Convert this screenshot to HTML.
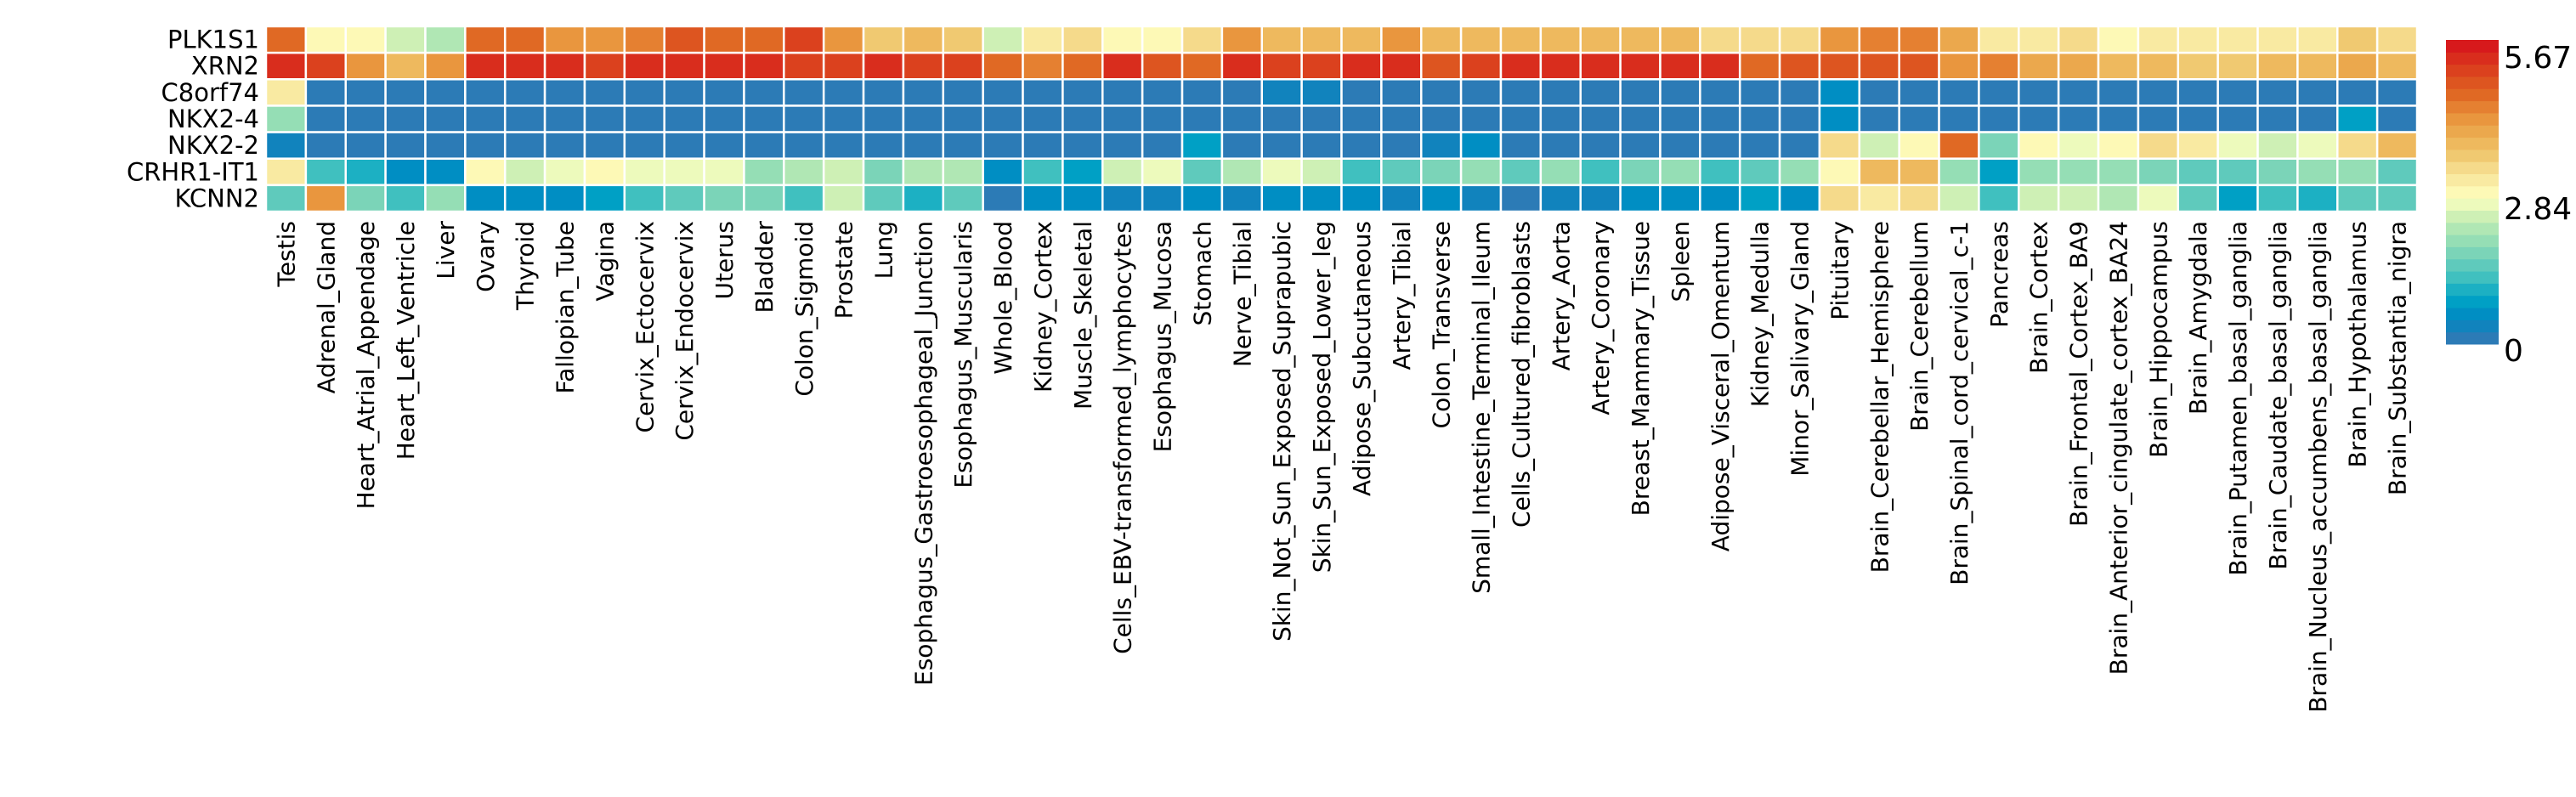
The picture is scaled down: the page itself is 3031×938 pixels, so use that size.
<!DOCTYPE html>
<html><head><meta charset="utf-8"><style>
html,body{margin:0;padding:0;background:#fff;width:3031px;height:938px;overflow:hidden}
svg text{font-family:"DejaVu Sans","Liberation Sans",sans-serif;fill:#000}
</style></head><body>
<svg id="chart" width="3031" height="938" viewBox="0 0 3031 938" xmlns="http://www.w3.org/2000/svg">
<g id="cells"></g><g id="rowlabels"></g><g id="collabels"></g><g id="cbar"></g>
</svg>
<script>
const genes = ["PLK1S1","XRN2","C8orf74","NKX2-4","NKX2-2","CRHR1-IT1","KCNN2"];
const tissues = ["Testis","Adrenal_Gland","Heart_Atrial_Appendage","Heart_Left_Ventricle","Liver","Ovary","Thyroid","Fallopian_Tube","Vagina","Cervix_Ectocervix","Cervix_Endocervix","Uterus","Bladder","Colon_Sigmoid","Prostate","Lung","Esophagus_Gastroesophageal_Junction","Esophagus_Muscularis","Whole_Blood","Kidney_Cortex","Muscle_Skeletal","Cells_EBV-transformed_lymphocytes","Esophagus_Mucosa","Stomach","Nerve_Tibial","Skin_Not_Sun_Exposed_Suprapubic","Skin_Sun_Exposed_Lower_leg","Adipose_Subcutaneous","Artery_Tibial","Colon_Transverse","Small_Intestine_Terminal_Ileum","Cells_Cultured_fibroblasts","Artery_Aorta","Artery_Coronary","Breast_Mammary_Tissue","Spleen","Adipose_Visceral_Omentum","Kidney_Medulla","Minor_Salivary_Gland","Pituitary","Brain_Cerebellar_Hemisphere","Brain_Cerebellum","Brain_Spinal_cord_cervical_c-1","Pancreas","Brain_Cortex","Brain_Frontal_Cortex_BA9","Brain_Anterior_cingulate_cortex_BA24","Brain_Hippocampus","Brain_Amygdala","Brain_Putamen_basal_ganglia","Brain_Caudate_basal_ganglia","Brain_Nucleus_accumbens_basal_ganglia","Brain_Hypothalamus","Brain_Substantia_nigra"];
const valsPLK1S1 = [4.9,3.0,2.9,2.4,2.3,4.9,4.9,4.4,4.4,4.7,5.0,4.9,4.8,5.2,4.4,3.6,3.8,3.7,2.4,3.3,3.5,3.0,2.9,3.5,4.4,3.9,3.9,4.0,4.4,4.0,3.9,3.8,4.0,3.9,3.9,3.9,3.5,3.4,3.5,4.4,4.7,4.6,4.1,3.2,3.3,3.4,3.0,3.3,3.2,3.3,3.3,3.3,3.6,3.5];
const valsXRN2 = [5.6,5.3,4.4,4.0,4.3,5.6,5.6,5.6,5.4,5.5,5.6,5.6,5.5,5.3,5.2,5.6,5.3,5.3,4.8,4.5,4.8,5.6,5.0,4.9,5.6,5.3,5.4,5.6,5.6,5.1,5.2,5.6,5.5,5.6,5.6,5.5,5.6,4.9,5.1,5.1,5.0,5.0,4.3,4.5,4.2,4.2,3.8,3.8,3.7,3.7,3.9,3.9,4.1,3.8];
const valsC8orf74 = [3.1,0,0,0,0,0,0,0,0.1,0,0,0,0,0,0,0,0,0,0,0,0,0,0.15,0,0,0.3,0.35,0,0,0,0,0,0,0,0,0,0,0,0,0.5,0,0,0,0,0,0,0,0,0,0,0,0,0,0];
const valsNKX24 = [2.1,0,0,0,0,0,0,0,0,0,0,0,0,0,0,0,0,0,0,0,0,0,0,0,0,0,0,0,0,0,0,0,0,0,0,0,0,0,0,0.6,0,0,0.15,0,0,0,0,0,0,0,0,0,0.8,0];
const valsNKX22 = [0.3,0,0,0,0,0,0,0,0,0,0,0,0,0,0,0,0,0,0,0,0,0,0,0.9,0,0,0,0,0,0.4,0.6,0,0,0,0,0,0,0,0,3.4,2.4,3.0,4.9,1.8,2.9,2.8,3.0,3.4,3.1,2.7,2.4,2.6,3.5,3.8];
const valsCRHR1 = [3.3,1.3,1.1,0.7,0.5,2.9,2.5,2.6,2.9,2.8,2.7,2.6,2.1,2.3,2.5,1.7,2.2,2.3,0.6,1.3,0.8,2.5,2.8,1.6,2.2,2.6,2.5,1.2,1.5,1.7,1.9,1.5,1.9,1.4,1.7,1.9,1.3,1.6,1.9,3.0,4.0,4.0,1.9,0.9,2.1,2.1,1.9,1.7,1.6,1.5,1.8,1.9,2.1,1.5];
const valsKCNN2 = [1.6,4.4,1.8,1.4,2.1,0.7,0.6,0.6,0.9,1.4,1.6,1.8,1.7,1.2,2.4,1.6,1.1,1.6,0.05,0.5,0.7,0.4,0.3,0.7,0.4,0.5,0.6,0.7,0.4,0.6,0.4,0.05,0.3,0.4,0.6,0.5,0.5,0.8,0.7,3.5,3.2,3.5,2.4,1.4,2.5,2.5,2.2,2.6,1.6,0.9,1.3,1.1,1.6,1.6];
const matrix = [valsPLK1S1,valsXRN2,valsC8orf74,valsNKX24,valsNKX22,valsCRHR1,valsKCNN2];
const vmin = 0, vmax = 5.9;
const cbTicks = [0, 2.84, 5.67];

const stopVals = [0,0.4,0.8,1.2,1.6,2.0,2.4,2.84,3.3,3.7,4.1,4.5,4.9,5.3,5.9];
const stopCols = ["#2c7bb6","#0088c2","#00a4c6","#3cbfbf","#6fcfba","#98dfb5","#c6eeb4","#ffffbf","#f7e49a","#f0c870","#ecae52","#e8903a","#e06a24","#dc4a1e","#d7191c"];
function hex(c){return [1,3,5].map(i=>parseInt(c.substr(i,2),16));}
const NLEV = 25;
function color(v){
  let t=(v-vmin)/(vmax-vmin); t=Math.max(0,Math.min(1,t));
  t=Math.min(NLEV-1,Math.floor(t*NLEV))/(NLEV-1);
  const q=vmin+t*(vmax-vmin);
  let i=0; while(i<stopVals.length-2 && q>stopVals[i+1]) i++;
  const f=Math.max(0,Math.min(1,(q-stopVals[i])/(stopVals[i+1]-stopVals[i])));
  const a=hex(stopCols[i]), b=hex(stopCols[i+1]);
  return "rgb("+a.map((x,k)=>Math.round(x+(b[k]-x)*f)).join(",")+")";
}
const X0=313, X1=2844, Y0=31, Y1=249;
const cw=(X1-X0)/tissues.length, rh=(Y1-Y0)/genes.length;
const xPos=i=>X0+i*cw, yPos=j=>Y0+j*rh;
const NS="http://www.w3.org/2000/svg";
function mk(tag,attrs,parent){const e=document.createElementNS(NS,tag);for(const k in attrs)e.setAttribute(k,attrs[k]);parent.appendChild(e);return e;}
const cells=document.getElementById('cells');
matrix.forEach((row,j)=>row.forEach((v,i)=>{
  const r=mk('rect',{x:xPos(i),y:yPos(j),width:cw,height:rh,fill:color(v),stroke:'#fff','stroke-width':2.5},cells);
  
  
}));
const rl=document.getElementById('rowlabels');
genes.forEach((g,j)=>{
  const t=mk('text',{x:X0-8,y:yPos(j)+rh/2+10,'text-anchor':'end','font-size':29},rl);
  t.textContent=g;
  
  
});
const cl=document.getElementById('collabels');
tissues.forEach((n,i)=>{
  const cx=xPos(i)+cw/2+10;
  const t=mk('text',{x:cx,y:260,'text-anchor':'end','font-size':28,transform:'rotate(-90 '+cx+' 260)'},cl);
  t.textContent=n;
  
  
});
const cb=document.getElementById('cbar');
const CBX=2878, CBW=62, CBT=47, CBB=405, nseg=NLEV;
for(let k=0;k<nseg;k++){
  const v=vmin+(k+0.5)/nseg*(vmax-vmin);
  const h=(CBB-CBT)/nseg;
  const r=mk('rect',{x:CBX,y:CBB-(k+1)*h,width:CBW,height:h+0.5,fill:color(v)},cb);
  
  
}
const tickY=[412,245,67];
cbTicks.forEach((v,k)=>{
  const t=mk('text',{x:CBX+CBW+6,y:tickY[k]+13,'font-size':36},cb);
  t.textContent=String(v);
  
  
});
</script>
</body></html>
